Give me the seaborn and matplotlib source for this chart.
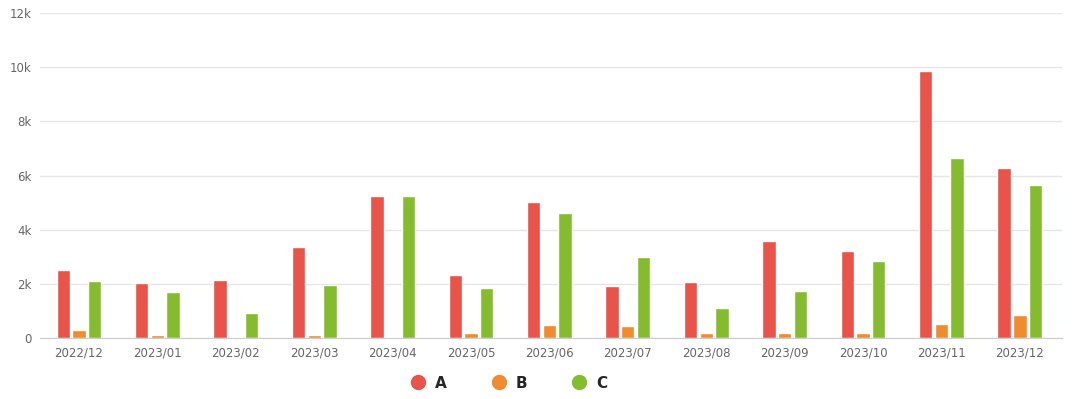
import pandas as pd
import seaborn as sns
import matplotlib.pyplot as plt
from matplotlib.lines import Line2D
from matplotlib.ticker import FuncFormatter

# data
months = ["2022/12", "2023/01", "2023/02", "2023/03", "2023/04", "2023/05", "2023/06",
          "2023/07", "2023/08", "2023/09", "2023/10", "2023/11", "2023/12"]
series_a = [2500, 2030, 2140, 3360, 5240, 2320, 5020, 1920, 2070, 3580, 3210, 9850, 6290]
series_b = [300, 100, 40, 100, 40, 170, 480, 440, 200, 180, 180, 520, 850]
series_c = [2100, 1700, 920, 1960, 5240, 1850, 4610, 2990, 1110, 1730, 2850, 6640, 5650]
series_names = ["A", "B", "C"]
colors = ["#e8534a", "#f08c2e", "#85bc2f"]

df = pd.DataFrame({"month": months, "A": series_a, "B": series_b, "C": series_c})
long_df = df.melt(id_vars="month", var_name="series", value_name="value")

sns.set_style("white")
fig = plt.figure(figsize=(10.74, 3.99), dpi=100)
ax = fig.add_axes([0.037, 0.153, 0.952, 0.814])

sns.barplot(data=long_df, x="month", y="value", hue="series", hue_order=series_names,
            palette=colors, width=0.6, gap=0.15, saturation=1, legend=False, ax=ax)

ax.set_ylim(0, 12000)
ax.set_yticks(range(0, 12001, 2000))
ax.yaxis.set_major_formatter(FuncFormatter(lambda v, p: "0" if v == 0 else f"{int(v / 1000)}k"))
ax.grid(axis="y", color="#e6e6e6", linewidth=1)
ax.set_axisbelow(True)
for side in ["top", "right", "left"]:
    ax.spines[side].set_visible(False)
ax.spines["bottom"].set_color("#cccccc")
ax.tick_params(axis="both", length=0, labelsize=8.5, labelcolor="#666666", pad=6)
ax.set_xlabel("")
ax.set_ylabel("")
ax.set_xlim(-0.5, len(months) - 0.46)

handles = [Line2D([0], [0], marker="o", linestyle="", markersize=10, color=c) for c in colors]
leg = fig.legend(handles, series_names, loc="center", bbox_to_anchor=(0.474, 0.04), ncol=3,
                 frameon=False, handlelength=1.0, handletextpad=0.6, columnspacing=2.9,
                 prop={"weight": "bold", "size": 11})

fig.savefig("out.png", dpi=100)
